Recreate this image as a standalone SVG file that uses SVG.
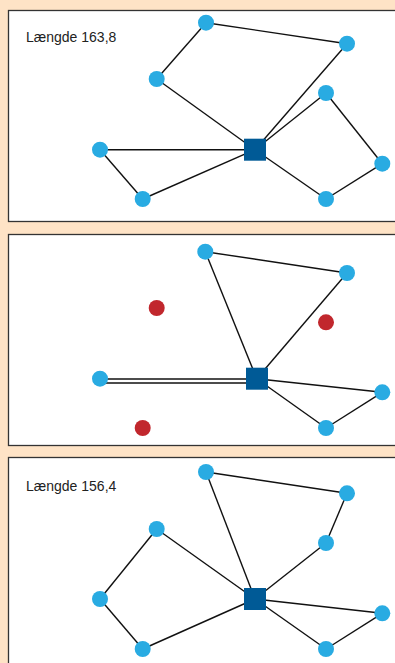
<svg xmlns="http://www.w3.org/2000/svg" width="395" height="663" viewBox="0 0 395 663">
<style>
.panel{fill:#fff;stroke:#333;stroke-width:1.3}
.e{stroke:#111;stroke-width:1.4;fill:none}
.n{fill:#29abe2}
.r{fill:#c1272d}
.hub{fill:#005a96}
.lbl{font-family:"Liberation Sans",Arial,sans-serif;font-size:14px;fill:#222}
</style>
<rect x="0" y="0" width="395" height="663" fill="#fee3c6"/>
<rect class="panel" x="8.5" y="10.5" width="400" height="211"/>
<rect class="panel" x="8.5" y="234.5" width="400" height="211"/>
<rect class="panel" x="8.5" y="457.5" width="400" height="220"/>
<text class="lbl" x="26" y="42">Længde 163,8</text>
<text class="lbl" x="26" y="491">Længde 156,4</text>
<g id="connectors">
<!-- panel 1 -->
<line class="e" x1="206" y1="22.7" x2="347" y2="43.7"/>
<line class="e" x1="206" y1="22.7" x2="156.7" y2="79"/>
<line class="e" x1="156.7" y1="79" x2="255" y2="149.7"/>
<line class="e" x1="347" y1="43.7" x2="255" y2="149.7"/>
<line class="e" x1="326" y1="93" x2="255" y2="149.7"/>
<line class="e" x1="326" y1="93" x2="382.3" y2="163.7"/>
<line class="e" x1="382.3" y1="163.7" x2="326" y2="199"/>
<line class="e" x1="326" y1="199" x2="255" y2="149.7"/>
<line class="e" x1="100" y1="149.7" x2="255" y2="149.7"/>
<line class="e" x1="100" y1="149.7" x2="142.7" y2="199"/>
<line class="e" x1="142.7" y1="199" x2="255" y2="149.7"/>
<!-- panel 2 -->
<line class="e" x1="205.3" y1="251.7" x2="347" y2="273"/>
<line class="e" x1="205.3" y1="251.7" x2="256.7" y2="378.7"/>
<line class="e" x1="347" y1="273" x2="256.7" y2="378.7"/>
<line class="e" x1="100" y1="379" x2="250" y2="379"/>
<line class="e" x1="100" y1="383" x2="250" y2="383"/>
<line class="e" x1="256.7" y1="378.7" x2="382.3" y2="392.3"/>
<line class="e" x1="256.7" y1="378.7" x2="326" y2="428"/>
<line class="e" x1="382.3" y1="392.3" x2="326" y2="428"/>
<!-- panel 3 -->
<line class="e" x1="206" y1="472" x2="347" y2="493.3"/>
<line class="e" x1="206" y1="472" x2="255" y2="599"/>
<line class="e" x1="347" y1="493.3" x2="326" y2="543"/>
<line class="e" x1="326" y1="543" x2="255" y2="599"/>
<line class="e" x1="156.7" y1="529" x2="255" y2="599"/>
<line class="e" x1="156.7" y1="529" x2="100" y2="599"/>
<line class="e" x1="100" y1="599" x2="142.7" y2="649"/>
<line class="e" x1="142.7" y1="649" x2="255" y2="599"/>
<line class="e" x1="255" y1="599" x2="382.3" y2="613.3"/>
<line class="e" x1="382.3" y1="613.3" x2="326" y2="649"/>
<line class="e" x1="326" y1="649" x2="255" y2="599"/>
</g>
<g id="panel1-nodes">
<g id="p1-a"><circle class="n" cx="206" cy="22.7" r="8"/></g>
<g id="p1-b"><circle class="n" cx="347" cy="43.7" r="8"/></g>
<g id="p1-c"><circle class="n" cx="156.7" cy="79" r="8"/></g>
<g id="p1-d"><circle class="n" cx="326" cy="93" r="8"/></g>
<g id="p1-e"><circle class="n" cx="100" cy="149.7" r="8"/></g>
<g id="p1-f"><circle class="n" cx="382.3" cy="163.7" r="8"/></g>
<g id="p1-g"><circle class="n" cx="142.7" cy="199" r="8"/></g>
<g id="p1-h"><circle class="n" cx="326" cy="199" r="8"/></g>
<g id="p1-hub"><rect class="hub" x="244" y="138.7" width="22" height="22"/></g>
</g>
<g id="panel2-nodes">
<g id="p2-a"><circle class="n" cx="205.3" cy="251.7" r="8"/></g>
<g id="p2-b"><circle class="n" cx="347" cy="273" r="8"/></g>
<g id="p2-r1"><circle class="r" cx="156.7" cy="308" r="8"/></g>
<g id="p2-r2"><circle class="r" cx="326" cy="322.3" r="8"/></g>
<g id="p2-e"><circle class="n" cx="100" cy="378.7" r="8"/></g>
<g id="p2-f"><circle class="n" cx="382.3" cy="392.3" r="8"/></g>
<g id="p2-r3"><circle class="r" cx="142.7" cy="428" r="8"/></g>
<g id="p2-h"><circle class="n" cx="326" cy="428" r="8"/></g>
<g id="p2-hub"><rect class="hub" x="246" y="367.7" width="22" height="22"/></g>
</g>
<g id="panel3-nodes">
<g id="p3-a"><circle class="n" cx="206" cy="472" r="8"/></g>
<g id="p3-b"><circle class="n" cx="347" cy="493.3" r="8"/></g>
<g id="p3-c"><circle class="n" cx="156.7" cy="529" r="8"/></g>
<g id="p3-d"><circle class="n" cx="326" cy="543" r="8"/></g>
<g id="p3-e"><circle class="n" cx="100" cy="599" r="8"/></g>
<g id="p3-f"><circle class="n" cx="382.3" cy="613.3" r="8"/></g>
<g id="p3-g"><circle class="n" cx="142.7" cy="649" r="8"/></g>
<g id="p3-h"><circle class="n" cx="326" cy="649" r="8"/></g>
<g id="p3-hub"><rect class="hub" x="244" y="588" width="22" height="22"/></g>
</g>
</svg>
